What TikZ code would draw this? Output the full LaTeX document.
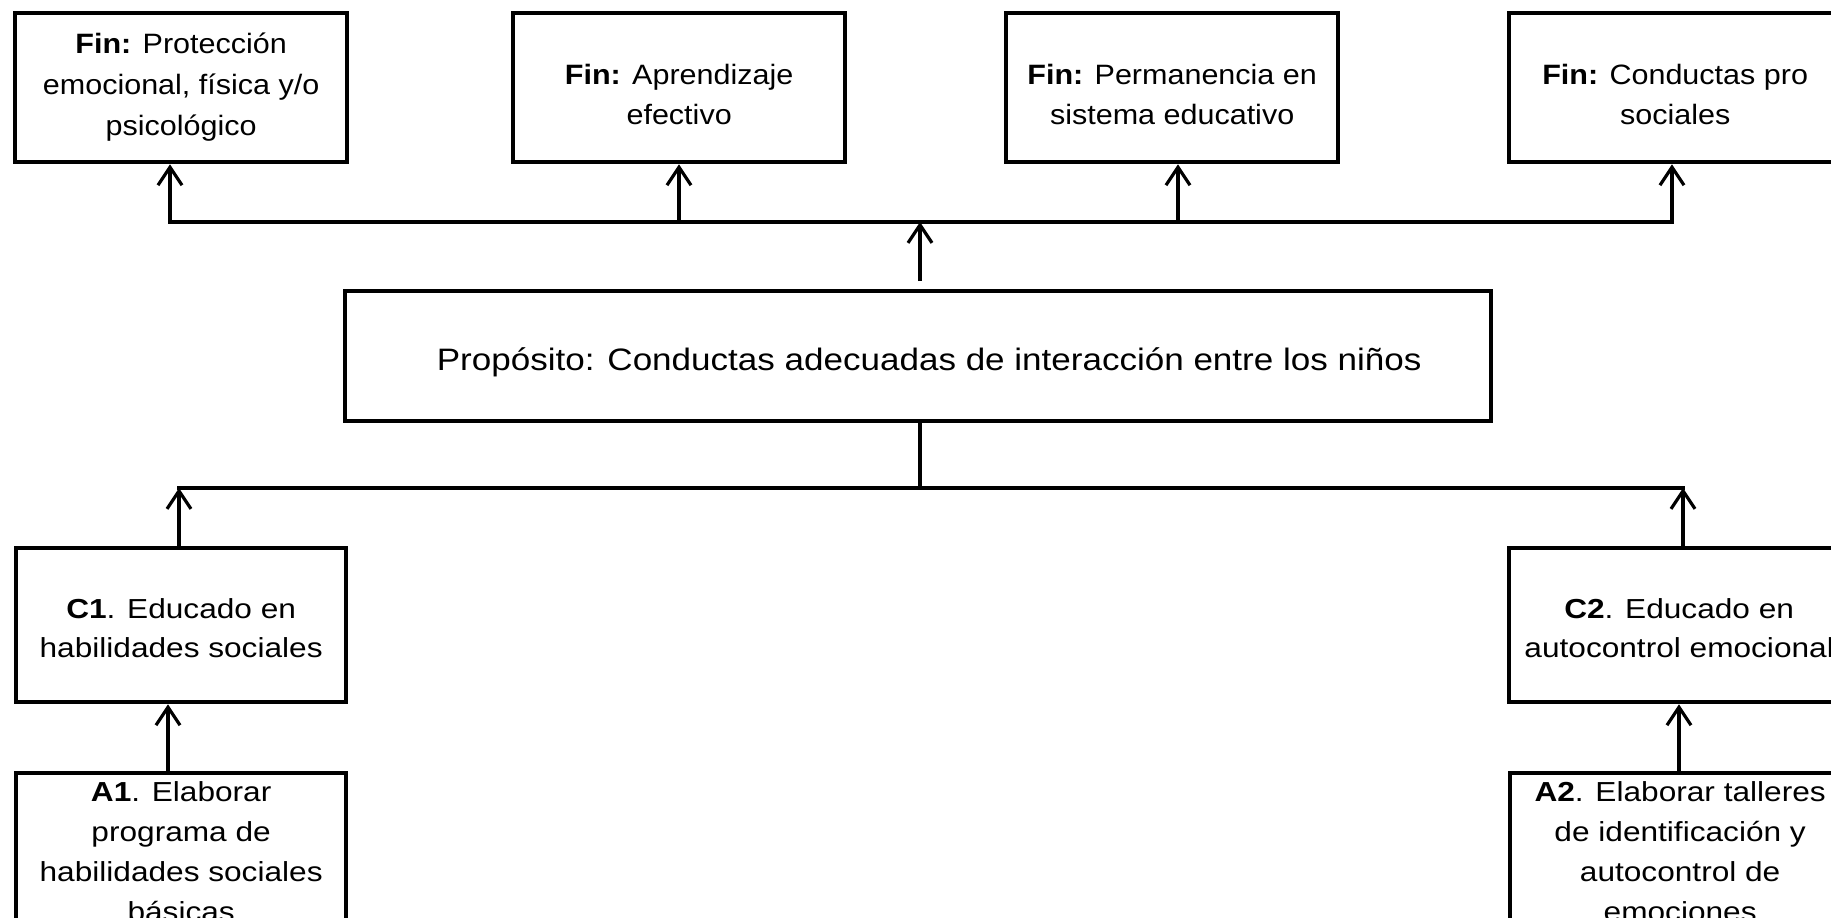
\documentclass[tikz,border=0pt]{standalone}
\usepackage{fontspec}
\setmainfont{Liberation Sans}
\newfontfamily\finfont{Liberation Sans}[FakeStretch=1.09]
\newfontfamily\propfont{Liberation Sans}[FakeStretch=1.13]
\newfontfamily\cafont{Liberation Sans}[FakeStretch=1.15]
\usetikzlibrary{arrows.meta}
\newcommand\btext[5]{\parbox[t]{#1}{\centering #2\fontsize{#3}{#4}\selectfont #5\par}}
\tikzset{
  bx/.style={draw=black, line width=4.3pt, inner sep=0pt, anchor=north west},
  conn/.style={draw=black, line width=3.2pt},
  bus/.style={draw=black, line width=3.2pt, line cap=rect},
  arr/.style={draw=black, line width=3.2pt, -{Straight Barb[length=18pt,width=24pt]}}
}
\begin{document}
\begin{tikzpicture}[x=1pt, y=-1pt]
\useasboundingbox (0,0) rectangle (1831,918);
\clip (0,0) rectangle (1831,918);
\fill[white] (0,0) rectangle (1831,918);

% Fin boxes
\node[bx, text height=40pt, text depth=109pt] (f1) at (13,11)
  {\btext{332pt}{\finfont}{28}{41}{\textbf{Fin:} Protección\\emocional, física y/o\\psicológico}};
\node[bx, text height=71pt, text depth=78pt] (f2) at (511,11)
  {\btext{332pt}{\finfont}{28}{40}{\textbf{Fin:} Aprendizaje\\efectivo}};
\node[bx, text height=71pt, text depth=78pt] (f3) at (1004,11)
  {\btext{332pt}{\finfont}{28}{40}{\textbf{Fin:} Permanencia en\\sistema educativo}};
\node[bx, text height=71pt, text depth=78pt] (f4) at (1507,11)
  {\btext{332pt}{\finfont}{28}{40}{\textbf{Fin:} Conductas pro\\sociales}};

% Proposito
\node[bx, text height=79pt, text depth=51pt] (prop) at (343,289)
  {\btext{1146pt}{\propfont}{31}{40}{\hspace*{22pt}Propósito: Conductas adecuadas de interacción entre los niños}};

% Components
\node[bx, text height=70pt, text depth=84pt] (c1) at (14,546)
  {\btext{330pt}{\cafont}{27.5}{39}{\textbf{C1}. Educado en\\habilidades sociales}};
\node[bx, text height=70pt, text depth=84pt] (c2) at (1507,546)
  {\btext{340pt}{\cafont}{27.5}{39}{\textbf{C2}. Educado en\\autocontrol emocional}};

% Activities
\node[bx, text height=28pt, text depth=200pt] (a1) at (14,771)
  {\btext{330pt}{\cafont}{27.5}{40}{\textbf{A1}. Elaborar\\programa de\\habilidades sociales\\básicas}};
\node[bx, text height=28pt, text depth=200pt] (a2) at (1508,771)
  {\btext{340pt}{\cafont}{27.5}{40}{\textbf{A2}. Elaborar talleres\\de identificación y\\autocontrol de\\emociones}};

% top bus
\coordinate (t1) at (170,222);
\coordinate (t2) at (679,222);
\coordinate (tc) at (920,222);
\coordinate (t3) at (1178,222);
\coordinate (t4) at (1672,222);
\draw[bus] (t1) -- (t4);
\draw[arr] (t1) -- (t1 |- f1.south);
\draw[arr] (t2) -- (t2 |- f2.south);
\draw[arr] (t3) -- (t3 |- f3.south);
\draw[arr] (t4) -- (t4 |- f4.south);
\draw[arr] ([yshift=8pt]tc |- prop.north) -- (tc);

% bottom bus
\coordinate (bc) at (920,488);
\coordinate (b1) at (179,488);
\coordinate (b2) at (1683,488);
\draw[conn] (prop.south -| bc) -- (bc);
\draw[bus] (b1) -- (b2);
\draw[arr] (b1 |- c1.north) -- (b1);
\draw[arr] (b2 |- c2.north) -- (b2);

% activities to components
\coordinate (k1) at (168,700);
\coordinate (k2) at (1679,700);
\draw[arr] (k1 |- a1.north) -- (k1 |- c1.south);
\draw[arr] (k2 |- a2.north) -- (k2 |- c2.south);
\end{tikzpicture}
\end{document}
